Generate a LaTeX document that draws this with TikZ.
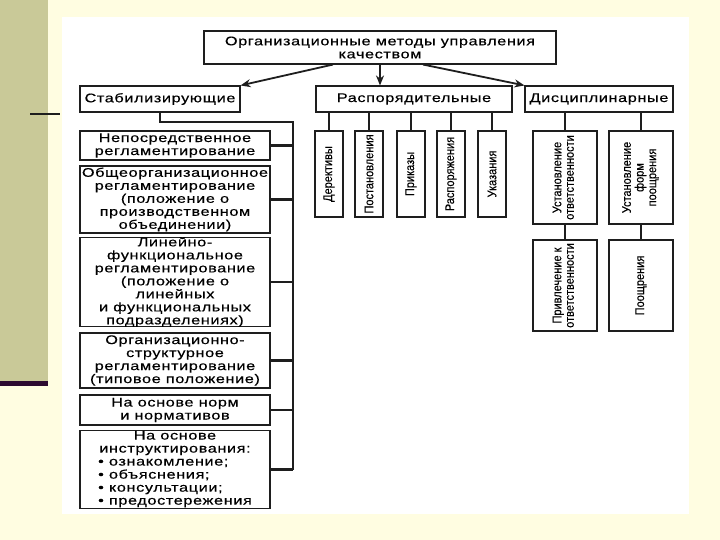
\documentclass[tikz,border=0pt]{standalone}
\usepackage{fontspec}
\usepackage{graphicx}
\setmainfont{Liberation Sans}[FakeStretch=1.3,LetterSpace=5,FakeBold=0.4]
\newfontfamily\narrowfont{Liberation Sans}[FakeStretch=0.88,FakeBold=0.2]
\usetikzlibrary{calc,arrows.meta}
\definecolor{pagebg}{RGB}{255,253,225}
\definecolor{olive}{RGB}{201,201,152}
\definecolor{darkpurple}{RGB}{45,10,48}
\definecolor{ink}{RGB}{30,30,30}
\begin{document}
\begin{tikzpicture}[x=1pt,y=-1pt,
  box/.style={draw=ink, line width=1.1pt, fill=white, inner sep=0pt, align=center,
    font=\fontsize{12.5}{13}\selectfont},
  vbox/.style={draw=ink, line width=1.1pt, fill=white, inner sep=0pt,
    font=\narrowfont\fontsize{12.5}{12.5}\selectfont},
  arr/.style={draw=ink, line width=1.8pt, -{Stealth[length=10pt,width=8pt]}},
  bus/.style={draw=ink, line width=2.6pt},
  conn/.style={draw=ink, line width=2.8pt}
]
\useasboundingbox (0,0) rectangle (720,540);
\fill[pagebg] (0,0) rectangle (720,540);
\fill[olive] (0,0) rectangle (48,381);
\fill[darkpurple] (0,381) rectangle (48,386);
\draw[line width=2pt, ink] (30,114) -- (60,114);
\fill[white] (62,17) rectangle (689,514);

% top
\node[box, minimum width=352pt, minimum height=33pt] (top) at (380,47.5)
  {Организационные методы управления\\качеством};
\node[box, minimum width=160pt, minimum height=26pt] (stab) at (160,99) {Стабилизирующие};
\node[box, minimum width=196pt, minimum height=26pt] (rasp) at (414,99) {Распорядительные};
\node[box, minimum width=148pt, minimum height=26pt] (disc) at (599,99) {Дисциплинарные};

\draw[arr] ($(top.south)+(-47,0)$) -- (stab.north east);
\draw[arr] (top.south) -- (top.south |- rasp.north);
\draw[arr] ($(top.south)+(43,0)$) -- (disc.north west);

% left column
\node[box, minimum width=190pt, minimum height=29pt] (L1) at (175,145.5)
  {Непосредственное\\регламентирование};
\node[box, minimum width=190pt, minimum height=67pt] (L2) at (175,199.5)
  {Общеорганизационное\\регламентирование\\(положение о\\производственном\\объединении)};
\node[box, minimum width=190pt, minimum height=86pt] (L3) at (175,282)
  {Линейно-\\функциональное\\регламентирование\\(положение о\\линейных\\и функциональных\\подразделениях)};
\node[box, minimum width=190pt, minimum height=55pt] (L4) at (175,360.5)
  {Организационно-\\структурное\\регламентирование\\(типовое положение)};
\node[box, minimum width=190pt, minimum height=30pt] (L5) at (175,410)
  {На основе норм\\и нормативов};
\node[box, minimum width=190pt, minimum height=75pt] (L6) at (175,469.5)
  {\begin{tabular}{@{}l@{}}\multicolumn{1}{@{}c@{}}{На основе}\\
   \multicolumn{1}{@{}c@{}}{инструктирования:}\\
   • ознакомление;\\• объяснения;\\• консультации;\\• предостережения\end{tabular}};

\coordinate (bus) at (293,122);
\draw[bus] (stab.south) |- (bus) -- (bus |- L6.east);
\foreach \n in {L1,L2,L3,L4,L5,L6}
  \draw[bus, line width=2.2pt] (\n.east) -- (\n.east -| bus);

% rasporyaditelnye
\foreach \n/\x/\t in {R1/329/Дерективы, R2/369/Постановления, R3/411/Приказы,
                      R4/451/Распоряжения, R5/492/Указания}{
  \node[vbox, minimum width=28pt, minimum height=86pt] (\n) at (\x,174)
    {\rotatebox{90}{\t}};
  \draw[conn] (\n.north) -- (\n.north |- rasp.south);
}

% disciplinarnye
\node[vbox, minimum width=64pt, minimum height=93pt] (D1) at (565,177.5)
  {\rotatebox{90}{\begin{tabular}{@{}c@{}}Установление\\ответственности\end{tabular}}};
\node[vbox, minimum width=64pt, minimum height=93pt] (D2) at (641,177.5)
  {\rotatebox{90}{\begin{tabular}{@{}c@{}}Установление\\форм\\поощрения\end{tabular}}};
\node[vbox, minimum width=64pt, minimum height=91pt] (D3) at (565,285.5)
  {\rotatebox{90}{\begin{tabular}{@{}c@{}}Привлечение к\\ответственности\end{tabular}}};
\node[vbox, minimum width=64pt, minimum height=91pt] (D4) at (641,285.5)
  {\rotatebox{90}{Поощрения}};
\draw[conn] (D1.north) -- (D1.north |- disc.south);
\draw[conn] (D2.north) -- (D2.north |- disc.south);
\draw[conn] (D1.south) -- (D3.north);
\draw[conn] (D2.south) -- (D4.north);
\end{tikzpicture}
\end{document}
